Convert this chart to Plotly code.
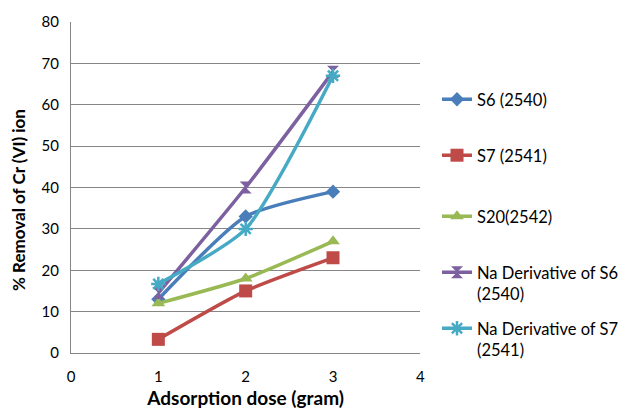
import plotly.graph_objects as go

doses = [1, 2, 3]
s6 = [13, 33, 39]
s7 = [3.3, 15, 23]
s20 = [12, 18, 27]
na_s6 = [14.5, 40, 68]
na_s7 = [16.7, 30, 67]

names = ["S6 (2540)", "S7 (2541)", "S20(2542)", "Na Derivative of S6<br>(2540)", "Na Derivative of S7<br>(2541)"]
series = [s6, s7, s20, na_s6, na_s7]
colors = ["#4A7EBB", "#BE4B48", "#98B954", "#7D60A0", "#46AAC5"]
symbols = ["diamond", "square", "triangle-up", "hourglass", "asterisk-open"]
sizes = [11, 13, 12, 12, 12]

fig = go.Figure()
legend_ids = ["legend", "legend2", "legend3", "legend4", "legend5"]
legend_y = [97, 153, 214, 270, 326]
for i, (nm, ys) in enumerate(zip(names, series)):
    mk = dict(symbol=symbols[i], size=sizes[i], color=colors[i])
    if symbols[i].endswith("open"):
        mk["line"] = dict(color=colors[i], width=2.5)
    fig.add_trace(go.Scatter(
        x=doses, y=ys, name=nm, mode="lines+markers",
        line=dict(color=colors[i], width=3.5, shape="spline", smoothing=0.6),
        marker=mk, legend=legend_ids[i],
    ))

H = 417
layout_legends = {}
for i, lid in enumerate(legend_ids):
    layout_legends[lid] = dict(
        x=437 / 627, xref="container", y=1 - (legend_y[i] - 15) / H, yref="container",
        xanchor="left", yanchor="top", font=dict(family="Lato, Carlito, sans-serif", size=16.5, color="#000"),
        bgcolor="rgba(0,0,0,0)", valign="top", itemwidth=30,
    )

fig.update_layout(
    width=627, height=417,
    margin=dict(l=71, r=199, t=20, b=62),
    paper_bgcolor="white", plot_bgcolor="white",
    font=dict(family="Lato, Carlito, sans-serif", size=15, color="#000"),
    showlegend=True,
    **layout_legends,
)
fig.add_annotation(
    text="<b>% Removal of Cr (VI) ion</b>", textangle=-90,
    xref="paper", yref="paper", x=(18 - 71) / 357, y=(355 - 200) / 335,
    xanchor="center", yanchor="middle", showarrow=False,
    font=dict(family="Lato, Carlito, sans-serif", size=17, color="#000"),
)
fig.update_xaxes(
    range=[0, 4], tickvals=[0, 1, 2, 3, 4], showgrid=False, zeroline=False,
    showline=True, linecolor="#868686", linewidth=1,
    ticks="outside", ticklen=10, tickcolor="rgba(0,0,0,0)",
    title=dict(text="<b>Adsorption dose (gram)</b>", font=dict(size=19), standoff=7),
)
fig.update_yaxes(
    range=[0, 80], tickvals=list(range(0, 81, 10)), showgrid=True, gridcolor="#868686", gridwidth=1,
    zeroline=False, showline=True, linecolor="#868686", linewidth=1,
    ticks="outside", ticklen=8, tickcolor="rgba(0,0,0,0)",
)
fig.write_html("out.html")
